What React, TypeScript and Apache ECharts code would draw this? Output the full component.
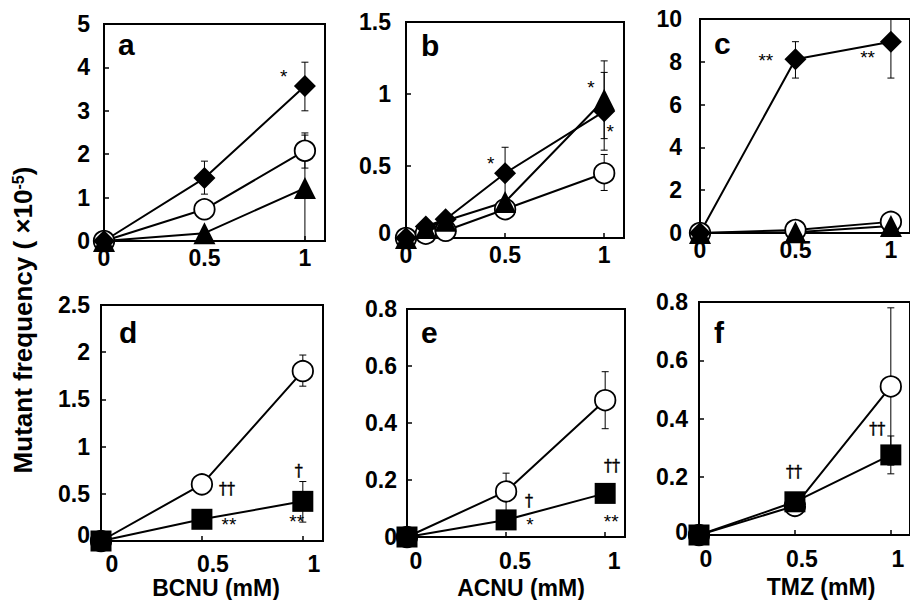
import React, { useEffect, useRef } from 'react';
import * as echarts from 'echarts';

// ---------- data ----------
const xBCNU = [0, 0.5, 1];
const xACNU = [0, 0.1, 0.2, 0.5, 1];
const xACNUe = [0, 0.5, 1];
const xTMZ = [0, 0.5, 1];

// panel a (BCNU)
const aDiamond = [0, 1.45, 3.57];
const aCircle = [0, 0.73, 2.08];
const aTriangle = [0, 0.18, 1.22];
const aErrors = [[0.5, 1.08, 1.84], [1, 3.0, 4.12], [1, 1.68, 2.49], [1, 0, 2.44]];
const aMarks: [number, number, string][] = [[0.895, 3.9, '*']];

// panel b (ACNU)
const bDiamond = [0, 0.08, 0.13, 0.45, 0.88];
const bCircle = [0, 0.03, 0.05, 0.2, 0.45];
const bTriangle = [0, 0.07, 0.12, 0.25, 0.96];
const bErrors = [[0.5, 0.27, 0.63], [1, 0.61, 1.15], [1, 0.69, 1.23], [1, 0.33, 0.58]];
const bMarks: [number, number, string][] = [[0.428, 0.547, '*'], [0.933, 1.076, '*'], [1.03, 0.77, '*']];

// panel c (TMZ)
const cDiamond = [0, 8.12, 8.94];
const cCircle = [0, 0.14, 0.52];
const cTriangle = [0, 0.03, 0.33];
const cErrors = [[0.5, 7.24, 8.94], [1, 7.24, 10.64]];
const cMarks: [number, number, string][] = [[0.345, 8.28, '**'], [0.878, 8.39, '**']];

// panel d (BCNU)
const dCircle = [0, 0.6, 1.8];
const dSquare = [0, 0.23, 0.42];
const dErrors = [[1, 1.64, 1.97], [1, 0.2, 0.63]];
const dMarks: [number, number, string][] = [[0.624, 0.543, '††'], [0.634, 0.223, '**'], [0.98, 0.737, '†'], [0.97, 0.258, '**']];

// panel e (ACNU)
const eCircle = [0, 0.16, 0.48];
const eSquare = [0, 0.06, 0.153];
const eErrors = [[0.5, 0.09, 0.224], [1, 0.38, 0.58]];
const eMarks: [number, number, string][] = [[0.616, 0.123, '†'], [0.621, 0.06, '*'], [1.035, 0.249, '††'], [1.03, 0.07, '**']];

// panel f (TMZ)
const fCircle = [0, 0.1, 0.51];
const fSquare = [0, 0.114, 0.275];
const fErrors = [[1, 0.24, 0.78], [1, 0.21, 0.34]];
const fMarks: [number, number, string][] = [[0.495, 0.214, '††'], [0.929, 0.361, '††']];

const yMaxes = [5, 1.5, 10, 2.5, 0.8, 0.8];
const yIntervals = [1, 0.5, 2, 0.5, 0.2, 0.2];
const panelLetters = ['a', 'b', 'c', 'd', 'e', 'f'];
const xNames = ['BCNU (mM)', 'ACNU (mM)', 'TMZ (mM)'];
const yTitle = 'Mutant frequency ( ×10';
const yTitleSup = '-5';

// ---------- layout ----------
const FONT = '"Liberation Sans", Arial, Helvetica, sans-serif';
const SERIF = '"DejaVu Serif", "Liberation Serif", serif';

const layout = [
  { left: 104, top: 24, width: 221, height: 217, yMargin: 14, xMargin: 5, xShift: 0, zeroLift: 0 },
  { left: 406, top: 22, width: 218, height: 216, yMargin: 15, xMargin: 5, xShift: 0, zeroLift: 5 },
  { left: 700, top: 19, width: 217, height: 214, yMargin: 18, xMargin: 5, xShift: 0, zeroLift: 0 },
  { left: 101, top: 305, width: 222, height: 236, yMargin: 11, xMargin: 11, xShift: 11, zeroLift: 6 },
  { left: 407, top: 309, width: 218, height: 228, yMargin: 10, xMargin: 12, xShift: 9, zeroLift: 0 },
  { left: 699, top: 302, width: 218, height: 233, yMargin: 11, xMargin: 12, xShift: 7, zeroLift: 3 },
];
const letterPos = [[118, 44], [421, 45], [714, 43], [119, 332], [421, 332], [714, 332]];
const xNamePos = [[216, 587.5], [521, 587.5], [821, 587]];

function pairs(xs: number[], ys: number[]) {
  return xs.map((x, i) => [x, ys[i]]);
}

function lineSeries(idx: number, xs: number[], ys: number[], kind: string) {
  const cfg: any = {
    diamond: { symbol: 'diamond', size: 22, fill: '#000', bw: 0 },
    circle: { symbol: 'circle', size: 20.5, fill: '#fff', bw: 1.8 },
    triangle: { symbol: 'triangle', size: 22, fill: '#000', bw: 0 },
    square: { symbol: 'rect', size: 21, fill: '#000', bw: 0 },
  }[kind];
  return {
    type: 'line',
    xAxisIndex: idx,
    yAxisIndex: idx,
    data: pairs(xs, ys),
    symbol: cfg.symbol,
    symbolSize: cfg.size,
    showAllSymbol: true,
    clip: false,
    z: 3,
    itemStyle: { color: cfg.fill, borderColor: '#000', borderWidth: cfg.bw, opacity: 1 },
    lineStyle: { color: '#000', width: 2 },
    emphasis: { disabled: true },
  };
}

function errorSeries(idx: number, data: number[][]) {
  return {
    type: 'custom',
    xAxisIndex: idx,
    yAxisIndex: idx,
    data,
    clip: true,
    z: 2,
    encode: { x: 0, y: [1, 2] },
    renderItem: (params: any, api: any) => {
      const x = api.value(0);
      const lo = api.coord([x, api.value(1)]);
      const hi = api.coord([x, api.value(2)]);
      const w = 3.5;
      const st = { stroke: '#000', lineWidth: 1 };
      return {
        type: 'group',
        children: [
          { type: 'line', shape: { x1: lo[0], y1: lo[1], x2: hi[0], y2: hi[1] }, style: st },
          { type: 'line', shape: { x1: lo[0] - w, y1: lo[1], x2: lo[0] + w, y2: lo[1] }, style: st },
          { type: 'line', shape: { x1: hi[0] - w, y1: hi[1], x2: hi[0] + w, y2: hi[1] }, style: st },
        ],
      };
    },
  };
}

function markSeries(idx: number, marks: [number, number, string][]) {
  return {
    type: 'custom',
    xAxisIndex: idx,
    yAxisIndex: idx,
    data: marks.map((m) => [m[0], m[1]]),
    clip: false,
    z: 6,
    encode: { x: 0, y: 1 },
    renderItem: (params: any, api: any) => {
      const m = marks[params.dataIndex];
      const p = api.coord([m[0], m[1]]);
      const isStar = m[2].indexOf('*') >= 0;
      const fs = isStar ? 19 : 16;
      return {
        type: 'text',
        x: p[0],
        y: p[1] + (isStar ? fs * 0.23 : -1),
        style: {
          text: m[2],
          fill: '#000',
          stroke: isStar ? undefined : '#000',
          lineWidth: isStar ? 0 : 0.5,
          fontSize: fs,
          fontFamily: isStar ? FONT : SERIF,
          fontWeight: 'normal',
          align: 'center',
          verticalAlign: 'middle',
        },
      };
    },
  };
}

function buildOption() {
  const grid = layout.map((l) => ({
    left: l.left,
    top: l.top,
    width: l.width,
    height: l.height,
    show: true,
    borderColor: '#000',
    borderWidth: 2,
    backgroundColor: 'transparent',
    containLabel: false,
  }));

  const labelBase = { color: '#000', fontSize: 23, fontWeight: 'bold', fontFamily: FONT };

  const xAxis = layout.map((l, i) => ({
    type: 'value',
    gridIndex: i,
    min: 0,
    max: 1.1,
    interval: 0.5,
    axisLine: { show: true, onZero: false, lineStyle: { color: '#000', width: 2 } },
    axisTick: { show: true, inside: true, length: 5, lineStyle: { color: '#000', width: 1.5 } },
    splitLine: { show: false },
    axisLabel: {
      ...labelBase,
      show: true,
      showMaxLabel: false,
      margin: l.xMargin,
      padding: [0, 0, 0, 2 * l.xShift],
      formatter: (v: number) => String(v),
    },
  }));

  const yAxis = layout.map((l, i) => ({
    type: 'value',
    gridIndex: i,
    min: 0,
    max: yMaxes[i],
    interval: yIntervals[i],
    axisLine: { show: true, onZero: false, lineStyle: { color: '#000', width: 2 } },
    axisTick: { show: true, inside: true, length: 5, lineStyle: { color: '#000', width: 1.5 } },
    splitLine: { show: false },
    axisLabel: {
      ...labelBase,
      show: true,
      margin: l.yMargin,
      formatter: (v: number) => (v === 0 && l.zeroLift ? '{z|0}' : String(v)),
      rich: { z: { ...labelBase, padding: [0, 0, 2 * l.zeroLift, 0] } },
    },
  }));

  const series: any[] = [
    errorSeries(0, aErrors),
    lineSeries(0, xBCNU, aCircle, 'circle'),
    lineSeries(0, xBCNU, aTriangle, 'triangle'),
    lineSeries(0, xBCNU, aDiamond, 'diamond'),
    markSeries(0, aMarks),

    errorSeries(1, bErrors),
    lineSeries(1, xACNU, bCircle, 'circle'),
    lineSeries(1, xACNU, bTriangle, 'triangle'),
    lineSeries(1, xACNU, bDiamond, 'diamond'),
    markSeries(1, bMarks),

    errorSeries(2, cErrors),
    lineSeries(2, xTMZ, cCircle, 'circle'),
    lineSeries(2, xTMZ, cTriangle, 'triangle'),
    lineSeries(2, xTMZ, cDiamond, 'diamond'),
    markSeries(2, cMarks),

    errorSeries(3, dErrors),
    lineSeries(3, xBCNU, dCircle, 'circle'),
    lineSeries(3, xBCNU, dSquare, 'square'),
    markSeries(3, dMarks),

    errorSeries(4, eErrors),
    lineSeries(4, xACNUe, eCircle, 'circle'),
    lineSeries(4, xACNUe, eSquare, 'square'),
    markSeries(4, eMarks),

    errorSeries(5, fErrors),
    lineSeries(5, xTMZ, fCircle, 'circle'),
    lineSeries(5, xTMZ, fSquare, 'square'),
    markSeries(5, fMarks),
  ];

  const graphic: any[] = [
    ...panelLetters.map((t, i) => ({
      type: 'text',
      x: letterPos[i][0],
      y: letterPos[i][1],
      z: 10,
      style: { text: t, fill: '#000', fontSize: 30, fontWeight: 'bold', fontFamily: FONT, align: 'left', verticalAlign: 'middle' },
    })),
    ...xNames.map((t, i) => ({
      type: 'text',
      x: xNamePos[i][0],
      y: xNamePos[i][1],
      style: { text: t, fill: '#000', fontSize: 23, fontWeight: 'bold', fontFamily: FONT, align: 'center', verticalAlign: 'middle' },
    })),
    {
      type: 'text',
      x: 23,
      y: 320,
      rotation: Math.PI / 2,
      style: {
        text: yTitle + '{sup|' + yTitleSup + '})',
        fill: '#000',
        fontSize: 26,
        fontWeight: 'bold',
        fontFamily: FONT,
        align: 'center',
        verticalAlign: 'middle',
        rich: {
          sup: { fontSize: 16, fontWeight: 'bold', fontFamily: FONT, fill: '#000', verticalAlign: 'top' },
        },
      },
    },
  ];

  return {
    animation: false,
    backgroundColor: '#fff',
    grid,
    xAxis,
    yAxis,
    series,
    graphic,
  };
}

export default function App() {
  const ref = useRef<HTMLDivElement>(null);
  useEffect(() => {
    if (!ref.current) return;
    const chart = echarts.init(ref.current, null, { renderer: 'svg' });
    chart.setOption(buildOption() as any);
    return () => chart.dispose();
  }, []);
  return (
    <div
      ref={ref}
      style={{ position: 'absolute', left: 0, top: 0, width: 910, height: 600, background: '#fff' }}
    />
  );
}
